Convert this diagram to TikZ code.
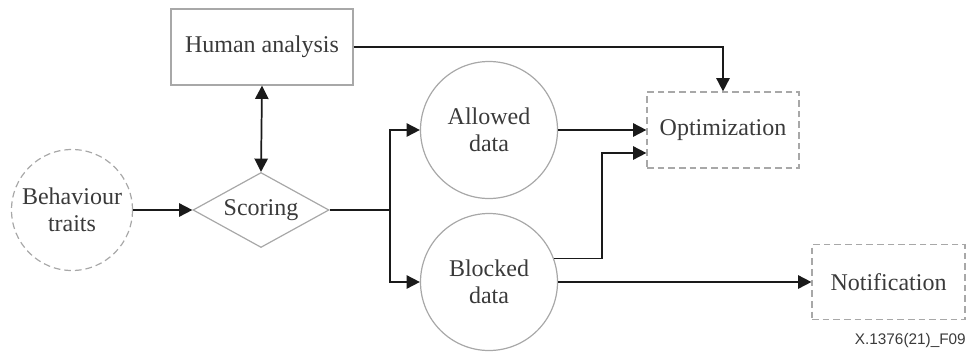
\documentclass[tikz,border=0pt]{standalone}
\usepackage{fontspec}
\setmainfont{Liberation Serif}
\newfontfamily\capfont{Liberation Sans}
\usetikzlibrary{shapes.geometric,arrows.meta,calc}
\definecolor{edgegray}{HTML}{A8A8A8}
\definecolor{inkgray}{HTML}{3A3A3A}
\definecolor{linegray}{HTML}{1A1A1A}
\tikzset{
  lbl/.style={text=inkgray,font=\fontsize{18}{20}\selectfont,align=center,inner sep=0pt},
  solidbox/.style={lbl,draw=edgegray,line width=0.9pt,rectangle},
  dashbox/.style={lbl,draw=edgegray,line width=0.9pt,rectangle,dash pattern=on 5pt off 3pt},
  solidcirc/.style={lbl,draw=edgegray,line width=0.9pt,circle},
  dashcirc/.style={lbl,draw=edgegray,line width=0.9pt,circle,dash pattern=on 5pt off 3pt},
  decision/.style={lbl,draw=edgegray,line width=0.9pt,diamond,aspect=1.8},
  tip/.style={Triangle[length=10pt,width=10pt]},
  conn/.style={draw=linegray,line width=1.3pt,-{Triangle[length=10pt,width=10pt]}},
  bothconn/.style={draw=linegray,line width=1.3pt,{Triangle[length=10pt,width=10pt]}-{Triangle[length=10pt,width=10pt]}},
  plain/.style={draw=linegray,line width=1.3pt}
}
\begin{document}
\begin{tikzpicture}[x=0.75pt,y=-0.75pt]
\useasboundingbox (0,0) rectangle (966,354);

% nodes
\node[dashcirc,minimum size=90.75pt] (behav) at (72,210) {Behaviour\\traits};
\node[solidbox,minimum width=136.5pt,minimum height=57pt] (human) at (262,47) {Human analysis};
\node[decision,minimum width=102pt,minimum height=56.25pt] (score) at (261,210) {Scoring};
\node[solidcirc,minimum size=102.75pt] (allow) at (489,130) {Allowed\\data};
\node[solidcirc,minimum size=102.75pt] (block) at (489,282) {Blocked\\data};
\node[dashbox,minimum width=114pt,minimum height=57pt] (opt) at (723,130) {Optimization};
\node[dashbox,minimum width=114.75pt,minimum height=56.25pt] (notif) at (888.5,282) {Notification};

\node[anchor=east,inner sep=0pt,text=inkgray,font=\capfont\fontsize{11.5}{13}\selectfont] (figid) at (966,341) {X.1376(21)\_F09};

% helper points
\coordinate (split) at (390,210);
\coordinate (jogx) at (602,0);
\coordinate (optin) at ($(opt.west)+(0,23)$);

% connectors
\draw[conn] (behav.east) -- (score.west);
\draw[bothconn] (human.south) -- (score.north);
\draw[conn] (human.east) -| (opt.north);
\draw[plain] (score.east) -- (split);
\draw[conn] (split) |- (allow.west);
\draw[conn] (split) |- (block.west);
\draw[conn] (allow.east) -- (opt.west);
\draw[conn] (block.20.5) -- (block.20.5 -| jogx) |- (optin);
\draw[conn] (block.east) -- (notif.west);
\end{tikzpicture}
\end{document}
